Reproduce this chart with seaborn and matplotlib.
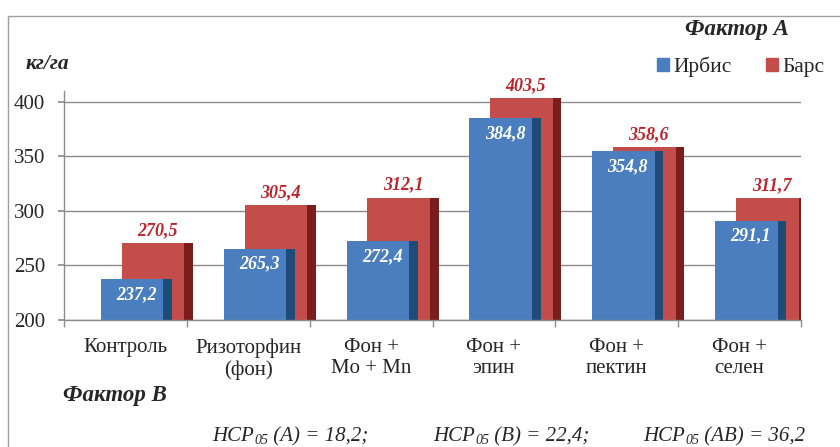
import numpy as np
import pandas as pd
import matplotlib.pyplot as plt
import seaborn as sns
from matplotlib.patches import Patch, Rectangle

categories = ['Контроль', 'Ризоторфин\n(фон)', 'Фон +\nMo + Mn', 'Фон +\nэпин', 'Фон +\nпектин', 'Фон +\nселен']
irbis = [237.2, 265.3, 272.4, 384.8, 354.8, 291.1]
bars = [270.5, 305.4, 312.1, 403.5, 358.6, 311.7]
series_names = ['Ирбис', 'Барс']
hcp_values = ['(А) = 18,2;', '(В) = 22,4;', '(АВ) = 36,2']

blue, blue_side = '#4A7EBE', '#1F4B78'
red, red_side = '#C24D4B', '#7A1D1C'
red_text = '#C0242B'
grey = '#8C8C8C'

sns.set_theme(style='white')
plt.rcParams['font.family'] = ['Liberation Serif', 'DejaVu Serif']

fig = plt.figure(figsize=(8.4, 4.47), dpi=100)
ax = fig.add_axes([64 / 840, 1 - 320 / 447, 737 / 840, 229 / 447])

face_w, side_w = 0.51, 0.07
# back bars (Барс)
sns.barplot(x=categories, y=bars, color=red, saturation=1, width=face_w, ax=ax)
for i, p in enumerate(ax.patches):
    p.set_x(i - 0.03)
    p.set_linewidth(0)
ax.bar(np.arange(6) - 0.03 + face_w, bars, width=side_w, align='edge', color=red_side, lw=0)
n0 = len(ax.patches)
# front bars (Ирбис)
sns.barplot(x=categories, y=irbis, color=blue, saturation=1, width=face_w, ax=ax)
for i, p in enumerate(ax.patches[n0:]):
    p.set_x(i - 0.2)
    p.set_linewidth(0)
ax.bar(np.arange(6) - 0.2 + face_w, irbis, width=side_w, align='edge', color=blue_side, lw=0)

for i, (a, b) in enumerate(zip(irbis, bars)):
    ax.annotate(f'{b:.1f}'.replace('.', ','), xy=(i - 0.03 + (face_w + side_w) / 2, b),
                xytext=(0, 3), textcoords='offset points', ha='center', va='bottom',
                color=red_text, fontsize=13, fontweight='bold', style='italic')
    ax.annotate(f'{a:.1f}'.replace('.', ','), xy=(i - 0.2 + (face_w + side_w) / 2, a),
                xytext=(0, -11), textcoords='offset points', ha='center', va='center',
                color='white', fontsize=13, fontweight='bold', style='italic')

ax.set_xlim(-0.5, 5.5)
ax.set_ylim(200, 410)
ax.set_yticks([200, 250, 300, 350, 400])
ax.yaxis.grid(True, color=grey, lw=1)
ax.set_axisbelow(True)
for s in ['top', 'right']:
    ax.spines[s].set_visible(False)
for s in ['left', 'bottom']:
    ax.spines[s].set_color(grey)
    ax.spines[s].set_linewidth(1)
ax.set_xticks(range(6))
ax.set_xticklabels(categories, fontsize=15, linespacing=1.15)
ax.set_xticks(np.arange(-0.5, 6, 1), minor=True)
ax.tick_params(axis='x', which='major', length=0, pad=13)
ax.tick_params(axis='x', which='minor', length=5, color=grey, bottom=True)
ax.tick_params(axis='y', length=4.5, color=grey, left=True, labelsize=15, pad=9)
ax.set_xlabel('')
ax.set_ylabel('')

fig.patches.append(Rectangle((8 / 840, -0.02), 1.0, 1 - 16 / 447 + 0.02, transform=fig.transFigure,
                             fill=False, edgecolor='#A0A0A0', lw=1))

fig.text(26 / 840, 1 - 64 / 447, 'кг/га', fontsize=15.5, fontweight='bold', style='italic', va='center')
fig.text(737 / 840, 1 - 30 / 447, 'Фактор А', fontsize=16.5, fontweight='bold', style='italic',
         va='center', ha='center')
fig.text(63 / 840, 1 - 395 / 447, 'Фактор В', fontsize=16.5, fontweight='bold', style='italic', va='center')

handles = [Patch(color=blue), Patch(color=red)]
fig.legend(handles, series_names, loc='center left', bbox_to_anchor=(657 / 840, 1 - 67 / 447), ncol=2,
           frameon=False, handlelength=0.55, handleheight=0.55, handletextpad=0.2, columnspacing=1.6,
           fontsize=15.5, borderaxespad=0, borderpad=0)

for x0, txt in zip([212, 433, 643], hcp_values):
    t1 = fig.text(x0 / 840, 1 - 441 / 447, 'НСР', fontsize=15, style='italic', va='baseline')
    t2 = ax.annotate('05', xy=(1, 0), xycoords=t1, xytext=(0.3, -1), textcoords='offset points',
                     fontsize=10, style='italic', va='bottom', ha='left', annotation_clip=False)
    ax.annotate(' ' + txt, xy=(1, 0), xycoords=(t2, t1), fontsize=15, style='italic',
                va='bottom', ha='left', annotation_clip=False)

fig.savefig('out.png', dpi=100)
